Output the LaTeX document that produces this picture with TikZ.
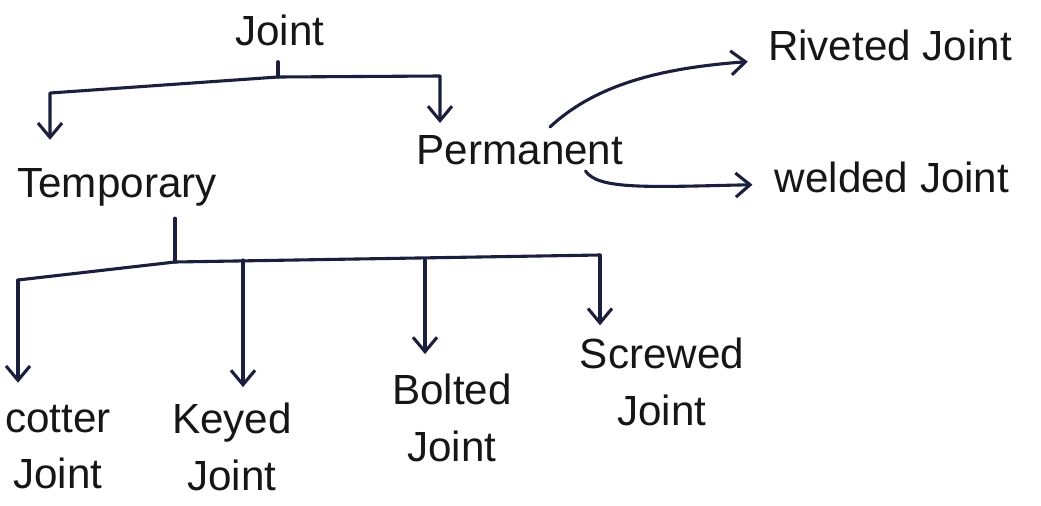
\documentclass[tikz,border=0pt]{standalone}
\usepackage{fontspec}
\setmainfont{Liberation Sans}
\usetikzlibrary{arrows.meta}
\definecolor{ink}{HTML}{1B1E3C}
\definecolor{txt}{HTML}{161616}
\begin{document}
\begin{tikzpicture}[x=0.025cm,y=-0.025cm,
  lbl/.style={font=\fontsize{30}{40}\selectfont, inner sep=0pt, align=center, text=txt},
  link/.style={draw=ink, line width=2.2pt, line cap=round, line join=round},
  arr/.style={link, -{Straight Barb[length=0.36cm,width=0.6cm,line width=2.2pt]}}]
\path[use as bounding box, fill=white] (0,0) rectangle (1041,506);

% nodes
\node[lbl] (joint) at (280,30) {Joint};
\node[lbl] (temp)  at (117,187) {Temporary};
\node[lbl] (perm)  at (520,150) {Permanent};
\node[lbl] (riv)   at (890,45) {Riveted Joint};
\node[lbl] (weld)  at (892,177) {welded Joint};
\node[lbl] (cot)   at (58,447) {cotter\\Joint};
\node[lbl] (key)   at (232,447) {Keyed\\Joint};
\node[lbl] (bolt)  at (452,418) {Bolted\\Joint};
\node[lbl] (screw) at (662,382) {Screwed\\Joint};

% junctions
\coordinate (j1) at (278,77);
\coordinate (jl) at (50,93);
\coordinate (jr) at (440,76);
\coordinate (t1) at (175,262);
\coordinate (tl) at (18,280);
\coordinate (tk) at (243,260);
\coordinate (tb) at (425,260);
\coordinate (ts) at (600,255);

% Joint tree
\draw[link, shorten <=0.4cm] (joint.south -| j1) -- (j1);
\draw[arr, shorten >=0.7cm] (j1) -- (jl) -- (jl |- temp.north);
\draw[arr, shorten >=0.3cm] (j1) -- (jr) -- (jr |- perm.north);

% Permanent branches
\draw[arr, shorten >=0.5cm] ([xshift=0.75cm,yshift=0.2cm]perm.north)
  .. controls (595,85) and (660,68) .. ([yshift=-0.38cm]riv.west);
\draw[arr, shorten >=0.55cm] ([xshift=-0.95cm,yshift=-0.15cm]perm.south east)
  .. controls (598,190) and (650,187) .. ([yshift=-0.18cm]weld.west);

% Temporary tree
\draw[link, shorten <=0.3cm] (temp.south -| t1) -- (t1);
\draw[link] (tl) -- (t1) -- (ts);
\draw[arr, shorten >=0.55cm] (tl) -- (tl |- cot.north);
\draw[arr, shorten >=0.4cm] (tk) -- (tk |- key.north);
\draw[arr, shorten >=0.5cm] (tb) -- (tb |- bolt.north);
\draw[arr, shorten >=0.32cm] (ts) -- (ts |- screw.north);
\end{tikzpicture}
\end{document}
